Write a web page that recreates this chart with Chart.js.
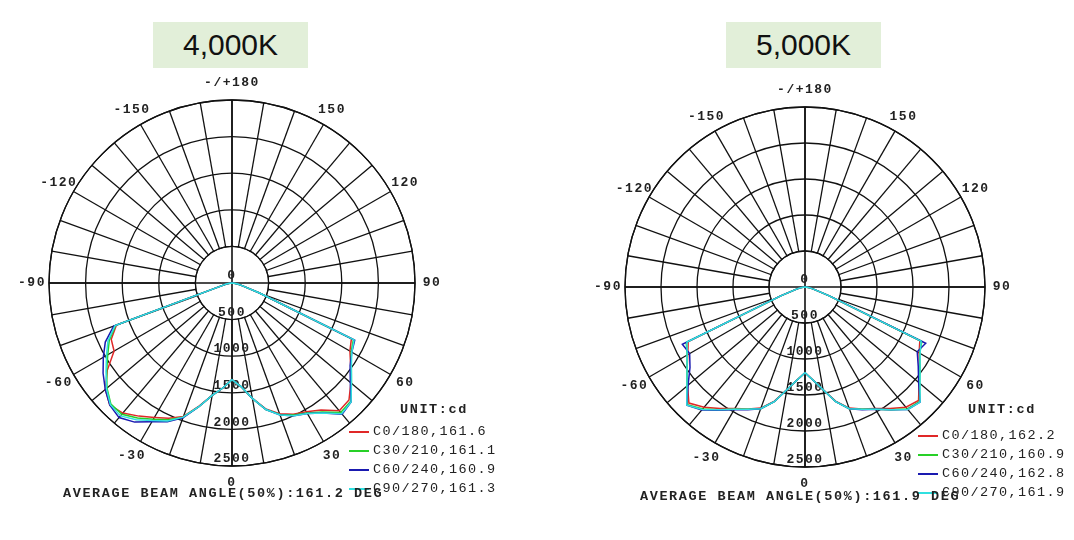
<!DOCTYPE html>
<html><head><meta charset="utf-8">
<script src="https://cdn.jsdelivr.net/npm/chart.js@4"></script>
<style>
body{margin:0;width:1074px;height:540px;background:#fff;position:relative;overflow:hidden;font-family:"Liberation Mono",monospace;}
canvas{position:absolute;top:0;}
.title{position:absolute;top:22px;width:155px;height:46px;background:#e2efd9;font-family:"Liberation Sans",Arial,sans-serif;font-size:30px;line-height:46px;text-align:center;color:#111;}
.txt{position:absolute;font-size:13.5px;letter-spacing:1.6px;color:#222;white-space:nowrap;line-height:14px;font-weight:bold;}
.leg{position:absolute;}
.leg div{height:19px;position:relative;font-size:13.5px;letter-spacing:1.4px;color:#222;white-space:nowrap;padding-left:24px;line-height:19px;}
.leg span{position:absolute;left:0;top:9px;width:20px;height:1.6px;}
</style></head><body>
<div class="title" style="left:153px">4,000K</div>
<div class="title" style="left:726px">5,000K</div>
<div style="position:absolute;left:0;top:0;width:537px;height:540px"><canvas id="c1" width="537" height="540"></canvas></div>
<div style="position:absolute;left:537px;top:0;width:537px;height:540px"><canvas id="c2" width="537" height="540"></canvas></div>
<div class="txt" style="left:400px;top:403px;font-weight:900">UNIT:cd</div>
<div class="leg" style="left:349px;top:422px" id="lg1"></div>
<div class="txt" style="left:63px;top:487px">AVERAGE BEAM ANGLE(50%):161.2 DEG</div>
<div class="txt" style="left:968px;top:403px;font-weight:900">UNIT:cd</div>
<div class="leg" style="left:918px;top:426px" id="lg2"></div>
<div class="txt" style="left:640px;top:490px">AVERAGE BEAM ANGLE(50%):161.9 DEG</div>
<script>
// gamma angles, -90..90 step 5 (degrees); intensity in cd
const gammaAngles = [-90,-85,-80,-75,-70,-65,-60,-55,-50,-45,-40,-35,-30,-25,-20,-15,-10,-5,0,5,10,15,20,25,30,35,40,45,50,55,60,65,70,75,80,85,90];
const radialTicks = [0,500,1000,1500,2000,2500];
const angleTickLabels = ['0','-30','-60','-90','-120','-150','-/+180','150','120','90','60','30'];
const seriesNames1 = ['C0/180,161.6','C30/210,161.1','C60/240,160.9','C90/270,161.3'];
const seriesNames2 = ['C0/180,162.2','C30/210,160.9','C60/240,162.8','C90/270,161.9'];
const seriesColors = ['#e02828','#28d028','#1a1ab0','#30e0e0'];

const k4_C0   = [0,30,80,150,1680,1820,1860,2080,2260,2360,2320,2220,2120,2040,1940,1740,1560,1440,1320,1420,1600,1780,1900,1980,2030,2120,2280,2260,2120,1980,1860,1800,400,150,80,30,0];
const k4_C30  = [0,30,80,150,1690,1850,1960,2090,2230,2340,2340,2250,2150,2060,1950,1750,1560,1440,1320,1420,1600,1790,1910,1990,2050,2150,2310,2290,2130,1990,1880,1830,400,150,80,30,0];
const k4_C60  = [0,30,80,150,1720,1910,2030,2150,2260,2360,2400,2320,2190,2090,1960,1750,1560,1440,1320,1420,1600,1790,1920,2000,2060,2170,2340,2300,2110,1970,1890,1850,400,150,80,30,0];
const k4_C90  = [0,30,80,150,1700,1870,1980,2100,2240,2350,2370,2280,2170,2080,1950,1750,1560,1440,1320,1420,1600,1790,1920,2000,2060,2170,2330,2300,2130,1990,1890,1840,400,150,80,30,0];

const k5_C0   = [0,30,70,130,350,1790,1880,2000,2130,2280,2180,2060,1950,1870,1790,1640,1450,1300,1190,1300,1450,1640,1790,1870,1950,2060,2180,2230,2070,1940,1830,1760,350,130,70,30,0];
const k5_C30  = [0,30,70,130,350,1820,1890,2000,2140,2310,2210,2080,1960,1875,1800,1650,1450,1300,1190,1300,1450,1650,1800,1875,1960,2080,2210,2250,2080,1950,1840,1790,350,130,70,30,0];
const k5_C60  = [0,30,70,130,360,1880,1850,1950,2120,2320,2230,2090,1970,1880,1800,1650,1450,1300,1190,1300,1450,1650,1800,1880,1960,2080,2220,2260,2060,1920,1800,1850,360,130,70,30,0];
const k5_C90  = [0,30,70,130,350,1810,1890,2000,2140,2320,2220,2080,1960,1875,1800,1650,1450,1300,1190,1300,1450,1650,1800,1875,1960,2080,2220,2260,2085,1950,1845,1780,350,130,70,30,0];

const N = 72; // 5 degree spokes around full circle
const labels = Array.from({length:N},(_,i)=>String(i));
function toRadar(vals){
  const m = {}; gammaAngles.forEach((a,j)=>m[a]=vals[j]);
  return labels.map((_,i)=> i<=18 ? m[-5*i] : (i>=54 ? m[5*(N-i)] : 0));
}
const FONT = 'bold 13px "Liberation Mono", monospace';
const gridPlugin = {
  id:'photo',
  beforeDatasetsDraw(chart){
    const s = chart.scales.r, ctx = chart.ctx;
    const cx = s.xCenter, cy = s.yCenter, R = s.drawingArea;
    const r0 = s.getDistanceFromCenterForValue(500);
    ctx.save();
    ctx.fillStyle='#fff'; ctx.beginPath(); ctx.arc(cx,cy,r0-0.5,0,Math.PI*2); ctx.fill();
    ctx.strokeStyle='#111'; ctx.lineWidth=1.3;
    ctx.beginPath(); ctx.arc(cx,cy,r0,0,Math.PI*2); ctx.stroke();
    ctx.beginPath(); ctx.arc(cx,cy,R,0,Math.PI*2); ctx.stroke();
    ctx.lineWidth=1.6;
    ctx.beginPath(); ctx.moveTo(cx-R,cy); ctx.lineTo(cx+R,cy); ctx.moveTo(cx,cy-R); ctx.lineTo(cx,cy+R); ctx.stroke();
    ctx.font = FONT; ctx.fillStyle='#222'; ctx.textAlign='center'; ctx.textBaseline='middle';
    ctx.letterSpacing='1.5px';
    radialTicks.forEach(v=>{
      const p = s.getPointPositionForValue(0, v);
      ctx.fillText(String(v), p.x, p.y-7);
    });
    angleTickLabels.forEach((t,j)=>{
      const p = s.getPointPosition(j*6, R+17);
      ctx.fillText(t, p.x, p.y);
    });
    ctx.restore();
  }
};
function make(id, series, pad){
  return new Chart(document.getElementById(id), {
    type:'radar',
    data:{labels, datasets: series.map((v,i)=>({data:toRadar(v), order:3-i, borderColor:seriesColors[i], borderWidth:1.5, pointRadius:0, fill:false, tension:0}))},
    options:{
      responsive:false, animation:false, layout:{padding:pad},
      plugins:{legend:{display:false}, tooltip:{enabled:false}},
      scales:{r:{min:0,max:2500,startAngle:180,
        ticks:{display:false,stepSize:500},
        pointLabels:{display:false},
        grid:{circular:true,color:'#111',lineWidth:1.3},
        angleLines:{lineWidth:1.3,color:c=>c.index%2===0?'#111':'rgba(0,0,0,0)'}
      }}
    },
    plugins:[gridPlugin]
  });
}
make('c1',[k4_C0,k4_C30,k4_C60,k4_C90],{left:49,right:122,top:100,bottom:74});
make('c2',[k5_C0,k5_C30,k5_C60,k5_C90],{left:88,right:89,top:107,bottom:73});
function legend(id,names){
  document.getElementById(id).innerHTML = names.map((n,i)=>`<div><span style="background:${seriesColors[i]}"></span>${n}</div>`).join('');
}
legend('lg1',seriesNames1); legend('lg2',seriesNames2);
</script>
</body></html>
